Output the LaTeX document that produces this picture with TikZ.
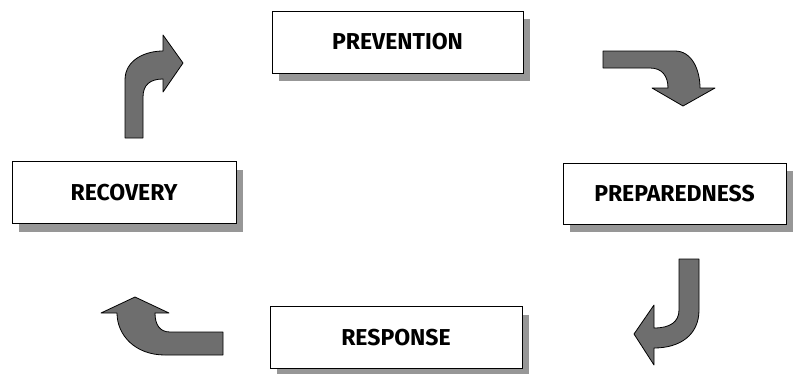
\documentclass[tikz,border=0pt]{standalone}
\usepackage{fontspec}
\setmainfont{Fira Sans}
\usetikzlibrary{shadows}
\definecolor{shadowgray}{HTML}{979797}
\definecolor{arrowgray}{HTML}{6E6E6E}
\tikzset{
  phase/.style={draw=black, line width=0.9pt, fill=white, inner sep=0pt,
    font=\fontsize{23}{26}\selectfont\bfseries,
    drop shadow={shadow xshift=7pt, shadow yshift=-8pt, fill=shadowgray, opacity=1}},
  blockarrow/.style={draw=black, line width=0.8pt, fill=arrowgray, line join=round}
}
\begin{document}
\begin{tikzpicture}[x=1pt,y=-1pt]
\useasboundingbox (0,0) rectangle (800,373);
\node[phase, minimum width=251pt, minimum height=62pt] (prev) at (397.5,42) {PREVENTION};
\node[phase, minimum width=223pt, minimum height=61pt] (prep) at (674.5,193.5) {PREPAREDNESS};
\node[phase, minimum width=224pt, minimum height=62pt] (reco) at (124,192.5) {RECOVERY};
\node[phase, minimum width=252pt, minimum height=62pt] (resp) at (396,337.5) {RESPONSE};
% recovery -> prevention
\draw[blockarrow] (125,138) -- (125,80) .. controls (125,60) and (145,51) .. (163,51)
  -- (163,35) -- (183,63) -- (163,92) -- (163,79)
  .. controls (150,79) and (143,85) .. (143,97) -- (143,138) -- cycle;
% prevention -> preparedness
\draw[blockarrow] (603,51) -- (675,51) .. controls (692,51) and (700,70) .. (700,88)
  -- (715,88) -- (683,106) -- (652,88) -- (668,88)
  .. controls (668,76) and (662,68) .. (650,68) -- (603,68) -- cycle;
% preparedness -> response
\draw[blockarrow] (679,259) -- (699,259) -- (699,310) .. controls (699,335) and (680,348) .. (654,348)
  -- (654,365) -- (634,334) -- (654,305) -- (654,328)
  .. controls (670,328) and (679,322) .. (679,310) -- cycle;
% response -> recovery
\draw[blockarrow] (223,355) -- (165,355) .. controls (135,355) and (117,335) .. (117,313)
  -- (101,313) -- (135,297) -- (169,313) -- (155,313)
  .. controls (155,325) and (160,332) .. (170,332) -- (223,332) -- cycle;
\end{tikzpicture}
\end{document}
